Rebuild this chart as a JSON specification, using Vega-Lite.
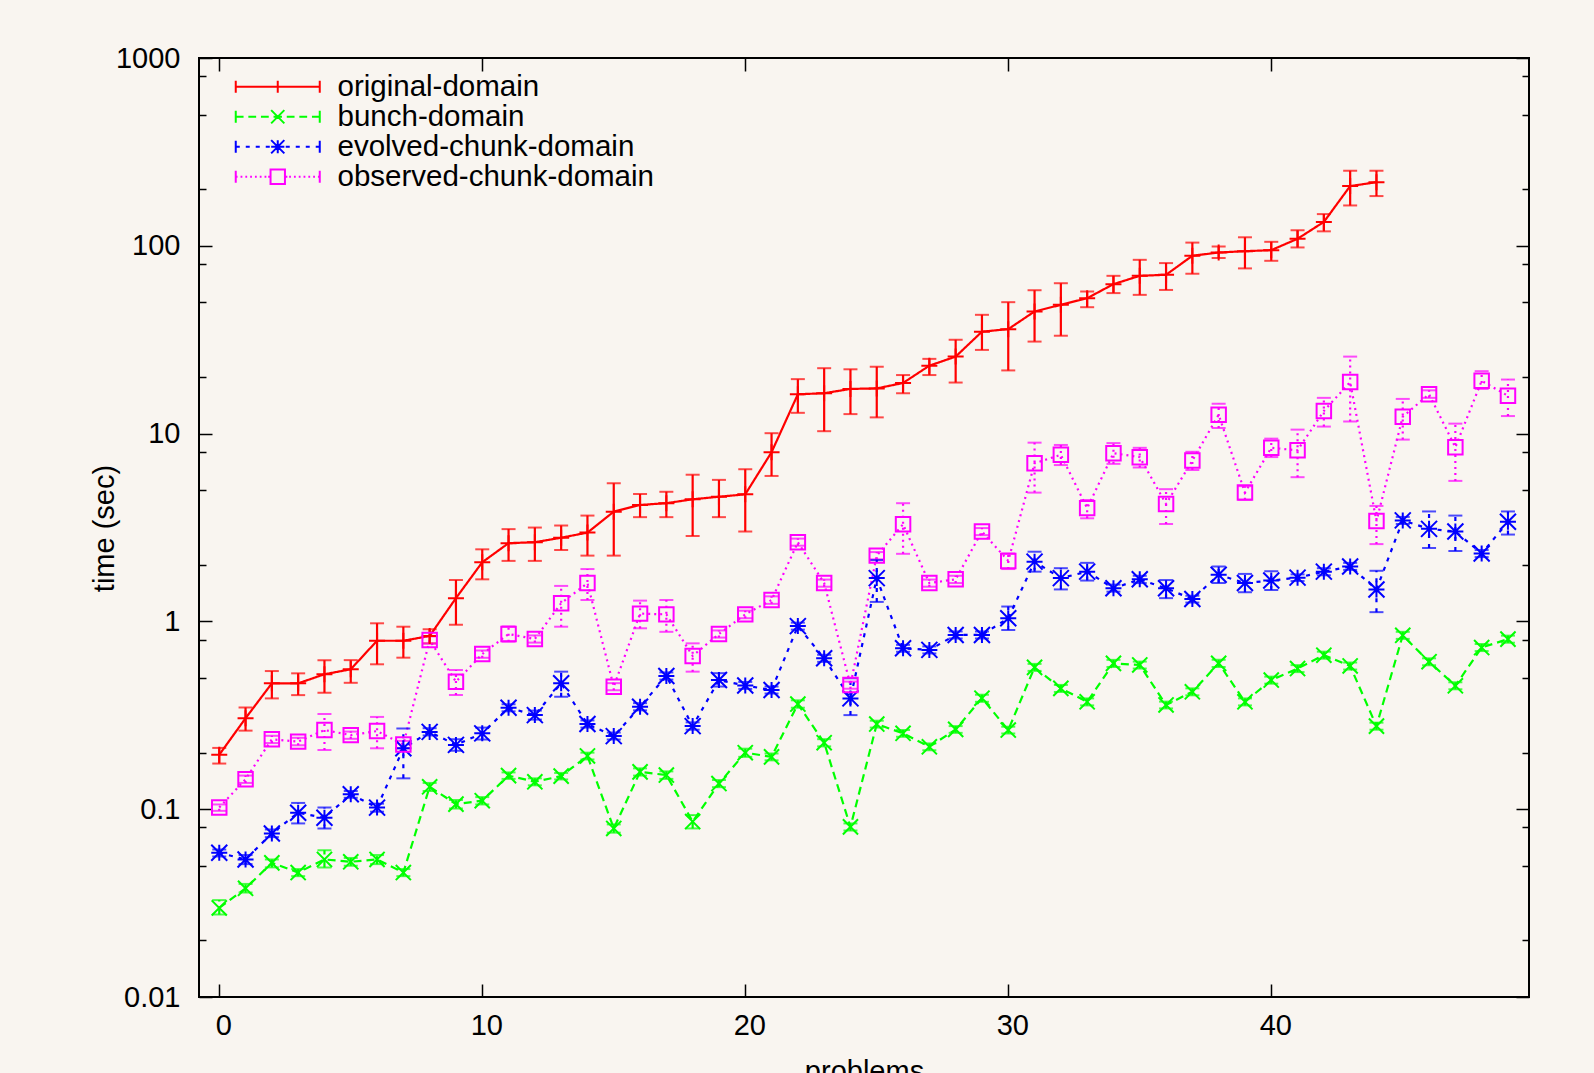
{
  "$schema": "https://vega.github.io/schema/vega-lite/v6.json",
  "autosize": {"type": "none"},
  "width": 1330,
  "height": 939,
  "padding": {"left": 199, "top": 58, "right": 65, "bottom": 76},
  "background": "#f9f5f0",
  "config": {
    "font": "Liberation Sans",
    "view": {"stroke": "black", "strokeWidth": 2},
    "axis": {"domain": false, "grid": false, "labelColor": "black", "titleColor": "black", "titleFontWeight": "normal", "tickColor": "black", "tickWidth": 1.5, "labelFont": "Liberation Sans", "titleFont": "Liberation Sans", "labelFontSize": 29, "titleFontSize": 29}
  },
  "datasets": {
    "runs": [
      {"series":"original-domain","problem":0,"time":0.195,"low":0.175,"high":0.212},
      {"series":"original-domain","problem":1,"time":0.305,"low":0.262,"high":0.348},
      {"series":"original-domain","problem":2,"time":0.468,"low":0.389,"high":0.544},
      {"series":"original-domain","problem":3,"time":0.468,"low":0.405,"high":0.529},
      {"series":"original-domain","problem":4,"time":0.523,"low":0.417,"high":0.622},
      {"series":"original-domain","problem":5,"time":0.556,"low":0.471,"high":0.622},
      {"series":"original-domain","problem":6,"time":0.789,"low":0.591,"high":0.977},
      {"series":"original-domain","problem":7,"time":0.789,"low":0.641,"high":0.937},
      {"series":"original-domain","problem":8,"time":0.836,"low":0.764,"high":0.908},
      {"series":"original-domain","problem":9,"time":1.33,"low":0.96,"high":1.66},
      {"series":"original-domain","problem":10,"time":2.065,"low":1.675,"high":2.42},
      {"series":"original-domain","problem":11,"time":2.61,"low":2.1,"high":3.1},
      {"series":"original-domain","problem":12,"time":2.64,"low":2.1,"high":3.16},
      {"series":"original-domain","problem":13,"time":2.79,"low":2.4,"high":3.24},
      {"series":"original-domain","problem":14,"time":2.97,"low":2.24,"high":3.66},
      {"series":"original-domain","problem":15,"time":3.84,"low":2.24,"high":5.44},
      {"series":"original-domain","problem":16,"time":4.17,"low":3.59,"high":4.77},
      {"series":"original-domain","problem":17,"time":4.26,"low":3.59,"high":4.9},
      {"series":"original-domain","problem":18,"time":4.47,"low":2.85,"high":6.04},
      {"series":"original-domain","problem":19,"time":4.61,"low":3.59,"high":5.67},
      {"series":"original-domain","problem":20,"time":4.75,"low":3.01,"high":6.46},
      {"series":"original-domain","problem":21,"time":7.96,"low":5.95,"high":10.05},
      {"series":"original-domain","problem":22,"time":16.2,"low":12.9,"high":19.5},
      {"series":"original-domain","problem":23,"time":16.4,"low":10.3,"high":22.3},
      {"series":"original-domain","problem":24,"time":17.3,"low":12.7,"high":22.0},
      {"series":"original-domain","problem":25,"time":17.4,"low":12.2,"high":22.7},
      {"series":"original-domain","problem":26,"time":18.6,"low":16.4,"high":20.5},
      {"series":"original-domain","problem":27,"time":23.0,"low":20.5,"high":25.0},
      {"series":"original-domain","problem":28,"time":25.7,"low":18.7,"high":31.6},
      {"series":"original-domain","problem":29,"time":34.9,"low":27.9,"high":42.9},
      {"series":"original-domain","problem":30,"time":36.0,"low":21.7,"high":50.1},
      {"series":"original-domain","problem":31,"time":44.7,"low":30.9,"high":58.0},
      {"series":"original-domain","problem":32,"time":48.5,"low":33.2,"high":63.2},
      {"series":"original-domain","problem":33,"time":52.6,"low":47.1,"high":57.1},
      {"series":"original-domain","problem":34,"time":62.5,"low":56.0,"high":69.2},
      {"series":"original-domain","problem":35,"time":69.2,"low":54.8,"high":84.2},
      {"series":"original-domain","problem":36,"time":70.1,"low":58.2,"high":80.9},
      {"series":"original-domain","problem":37,"time":88.5,"low":71,"high":104},
      {"series":"original-domain","problem":38,"time":92.1,"low":86,"high":99},
      {"series":"original-domain","problem":39,"time":93.6,"low":75.8,"high":111},
      {"series":"original-domain","problem":40,"time":94.8,"low":83.2,"high":105},
      {"series":"original-domain","problem":41,"time":109,"low":98,"high":121},
      {"series":"original-domain","problem":42,"time":134,"low":119.4,"high":147.5},
      {"series":"original-domain","problem":43,"time":208,"low":164,"high":251},
      {"series":"original-domain","problem":44,"time":218,"low":184,"high":251},
      {"series":"bunch-domain","problem":0,"time":0.0298,"low":0.0275,"high":0.0328},
      {"series":"bunch-domain","problem":1,"time":0.0379,"low":0.036,"high":0.04},
      {"series":"bunch-domain","problem":2,"time":0.0518,"low":0.049,"high":0.054},
      {"series":"bunch-domain","problem":3,"time":0.046,"low":0.044,"high":0.048},
      {"series":"bunch-domain","problem":4,"time":0.054,"low":0.049,"high":0.0605},
      {"series":"bunch-domain","problem":5,"time":0.0525,"low":0.05,"high":0.055},
      {"series":"bunch-domain","problem":6,"time":0.054,"low":0.051,"high":0.057},
      {"series":"bunch-domain","problem":7,"time":0.046,"low":0.044,"high":0.048},
      {"series":"bunch-domain","problem":8,"time":0.1316,"low":0.125,"high":0.138},
      {"series":"bunch-domain","problem":9,"time":0.1064,"low":0.101,"high":0.112},
      {"series":"bunch-domain","problem":10,"time":0.111,"low":0.106,"high":0.116},
      {"series":"bunch-domain","problem":11,"time":0.151,"low":0.145,"high":0.157},
      {"series":"bunch-domain","problem":12,"time":0.14,"low":0.134,"high":0.146},
      {"series":"bunch-domain","problem":13,"time":0.15,"low":0.144,"high":0.156},
      {"series":"bunch-domain","problem":14,"time":0.192,"low":0.184,"high":0.2},
      {"series":"bunch-domain","problem":15,"time":0.079,"low":0.075,"high":0.083},
      {"series":"bunch-domain","problem":16,"time":0.158,"low":0.151,"high":0.165},
      {"series":"bunch-domain","problem":17,"time":0.152,"low":0.145,"high":0.159},
      {"series":"bunch-domain","problem":18,"time":0.086,"low":0.079,"high":0.093},
      {"series":"bunch-domain","problem":19,"time":0.137,"low":0.131,"high":0.143},
      {"series":"bunch-domain","problem":20,"time":0.2,"low":0.19,"high":0.21},
      {"series":"bunch-domain","problem":21,"time":0.19,"low":0.182,"high":0.198},
      {"series":"bunch-domain","problem":22,"time":0.363,"low":0.347,"high":0.38},
      {"series":"bunch-domain","problem":23,"time":0.226,"low":0.216,"high":0.236},
      {"series":"bunch-domain","problem":24,"time":0.0805,"low":0.077,"high":0.084},
      {"series":"bunch-domain","problem":25,"time":0.284,"low":0.272,"high":0.296},
      {"series":"bunch-domain","problem":26,"time":0.2535,"low":0.243,"high":0.264},
      {"series":"bunch-domain","problem":27,"time":0.215,"low":0.206,"high":0.224},
      {"series":"bunch-domain","problem":28,"time":0.266,"low":0.255,"high":0.277},
      {"series":"bunch-domain","problem":29,"time":0.39,"low":0.373,"high":0.407},
      {"series":"bunch-domain","problem":30,"time":0.264,"low":0.253,"high":0.275},
      {"series":"bunch-domain","problem":31,"time":0.569,"low":0.545,"high":0.594},
      {"series":"bunch-domain","problem":32,"time":0.44,"low":0.421,"high":0.459},
      {"series":"bunch-domain","problem":33,"time":0.373,"low":0.357,"high":0.389},
      {"series":"bunch-domain","problem":34,"time":0.598,"low":0.572,"high":0.624},
      {"series":"bunch-domain","problem":35,"time":0.586,"low":0.561,"high":0.611},
      {"series":"bunch-domain","problem":36,"time":0.359,"low":0.344,"high":0.374},
      {"series":"bunch-domain","problem":37,"time":0.422,"low":0.404,"high":0.44},
      {"series":"bunch-domain","problem":38,"time":0.598,"low":0.572,"high":0.624},
      {"series":"bunch-domain","problem":39,"time":0.373,"low":0.357,"high":0.389},
      {"series":"bunch-domain","problem":40,"time":0.487,"low":0.466,"high":0.508},
      {"series":"bunch-domain","problem":41,"time":0.561,"low":0.537,"high":0.585},
      {"series":"bunch-domain","problem":42,"time":0.661,"low":0.633,"high":0.69},
      {"series":"bunch-domain","problem":43,"time":0.579,"low":0.554,"high":0.604},
      {"series":"bunch-domain","problem":44,"time":0.277,"low":0.265,"high":0.289},
      {"series":"bunch-domain","problem":45,"time":0.843,"low":0.807,"high":0.88},
      {"series":"bunch-domain","problem":46,"time":0.61,"low":0.584,"high":0.636},
      {"series":"bunch-domain","problem":47,"time":0.454,"low":0.435,"high":0.474},
      {"series":"bunch-domain","problem":48,"time":0.726,"low":0.695,"high":0.758},
      {"series":"bunch-domain","problem":49,"time":0.805,"low":0.77,"high":0.84},
      {"series":"evolved-chunk-domain","problem":0,"time":0.0586,"low":0.056,"high":0.061},
      {"series":"evolved-chunk-domain","problem":1,"time":0.054,"low":0.051,"high":0.057},
      {"series":"evolved-chunk-domain","problem":2,"time":0.0743,"low":0.071,"high":0.078},
      {"series":"evolved-chunk-domain","problem":3,"time":0.0957,"low":0.084,"high":0.108},
      {"series":"evolved-chunk-domain","problem":4,"time":0.09,"low":0.079,"high":0.102},
      {"series":"evolved-chunk-domain","problem":5,"time":0.12,"low":0.115,"high":0.125},
      {"series":"evolved-chunk-domain","problem":6,"time":0.102,"low":0.097,"high":0.107},
      {"series":"evolved-chunk-domain","problem":7,"time":0.211,"low":0.146,"high":0.269},
      {"series":"evolved-chunk-domain","problem":8,"time":0.258,"low":0.247,"high":0.27},
      {"series":"evolved-chunk-domain","problem":9,"time":0.22,"low":0.205,"high":0.236},
      {"series":"evolved-chunk-domain","problem":10,"time":0.2535,"low":0.235,"high":0.272},
      {"series":"evolved-chunk-domain","problem":11,"time":0.347,"low":0.332,"high":0.362},
      {"series":"evolved-chunk-domain","problem":12,"time":0.317,"low":0.3,"high":0.335},
      {"series":"evolved-chunk-domain","problem":13,"time":0.468,"low":0.397,"high":0.54},
      {"series":"evolved-chunk-domain","problem":14,"time":0.284,"low":0.272,"high":0.297},
      {"series":"evolved-chunk-domain","problem":15,"time":0.245,"low":0.235,"high":0.256},
      {"series":"evolved-chunk-domain","problem":16,"time":0.351,"low":0.336,"high":0.367},
      {"series":"evolved-chunk-domain","problem":17,"time":0.512,"low":0.49,"high":0.535},
      {"series":"evolved-chunk-domain","problem":18,"time":0.277,"low":0.265,"high":0.29},
      {"series":"evolved-chunk-domain","problem":19,"time":0.487,"low":0.45,"high":0.53},
      {"series":"evolved-chunk-domain","problem":20,"time":0.456,"low":0.437,"high":0.476},
      {"series":"evolved-chunk-domain","problem":21,"time":0.431,"low":0.413,"high":0.45},
      {"series":"evolved-chunk-domain","problem":22,"time":0.944,"low":0.904,"high":0.985},
      {"series":"evolved-chunk-domain","problem":23,"time":0.636,"low":0.609,"high":0.664},
      {"series":"evolved-chunk-domain","problem":24,"time":0.389,"low":0.317,"high":0.498},
      {"series":"evolved-chunk-domain","problem":25,"time":1.7,"low":1.27,"high":2.12},
      {"series":"evolved-chunk-domain","problem":26,"time":0.719,"low":0.689,"high":0.75},
      {"series":"evolved-chunk-domain","problem":27,"time":0.705,"low":0.675,"high":0.736},
      {"series":"evolved-chunk-domain","problem":28,"time":0.847,"low":0.811,"high":0.884},
      {"series":"evolved-chunk-domain","problem":29,"time":0.847,"low":0.811,"high":0.884},
      {"series":"evolved-chunk-domain","problem":30,"time":1.04,"low":0.9,"high":1.2},
      {"series":"evolved-chunk-domain","problem":31,"time":2.08,"low":1.84,"high":2.35},
      {"series":"evolved-chunk-domain","problem":32,"time":1.7,"low":1.48,"high":1.92},
      {"series":"evolved-chunk-domain","problem":33,"time":1.84,"low":1.65,"high":2.05},
      {"series":"evolved-chunk-domain","problem":34,"time":1.5,"low":1.44,"high":1.57},
      {"series":"evolved-chunk-domain","problem":35,"time":1.675,"low":1.6,"high":1.75},
      {"series":"evolved-chunk-domain","problem":36,"time":1.5,"low":1.33,"high":1.66},
      {"series":"evolved-chunk-domain","problem":37,"time":1.315,"low":1.26,"high":1.37},
      {"series":"evolved-chunk-domain","problem":38,"time":1.77,"low":1.6,"high":1.96},
      {"series":"evolved-chunk-domain","problem":39,"time":1.6,"low":1.43,"high":1.79},
      {"series":"evolved-chunk-domain","problem":40,"time":1.65,"low":1.47,"high":1.85},
      {"series":"evolved-chunk-domain","problem":41,"time":1.71,"low":1.64,"high":1.78},
      {"series":"evolved-chunk-domain","problem":42,"time":1.84,"low":1.76,"high":1.92},
      {"series":"evolved-chunk-domain","problem":43,"time":1.96,"low":1.88,"high":2.05},
      {"series":"evolved-chunk-domain","problem":44,"time":1.48,"low":1.12,"high":1.86},
      {"series":"evolved-chunk-domain","problem":45,"time":3.45,"low":3.3,"high":3.6},
      {"series":"evolved-chunk-domain","problem":46,"time":3.11,"low":2.46,"high":3.85},
      {"series":"evolved-chunk-domain","problem":47,"time":3.01,"low":2.37,"high":3.66},
      {"series":"evolved-chunk-domain","problem":48,"time":2.3,"low":2.2,"high":2.4},
      {"series":"evolved-chunk-domain","problem":49,"time":3.39,"low":2.9,"high":3.85},
      {"series":"observed-chunk-domain","problem":0,"time":0.102,"low":0.098,"high":0.106},
      {"series":"observed-chunk-domain","problem":1,"time":0.1445,"low":0.138,"high":0.151},
      {"series":"observed-chunk-domain","problem":2,"time":0.2355,"low":0.225,"high":0.246},
      {"series":"observed-chunk-domain","problem":3,"time":0.229,"low":0.219,"high":0.24},
      {"series":"observed-chunk-domain","problem":4,"time":0.264,"low":0.2065,"high":0.321},
      {"series":"observed-chunk-domain","problem":5,"time":0.248,"low":0.237,"high":0.259},
      {"series":"observed-chunk-domain","problem":6,"time":0.2606,"low":0.211,"high":0.31},
      {"series":"observed-chunk-domain","problem":7,"time":0.221,"low":0.211,"high":0.231},
      {"series":"observed-chunk-domain","problem":8,"time":0.796,"low":0.762,"high":0.832},
      {"series":"observed-chunk-domain","problem":9,"time":0.477,"low":0.406,"high":0.551},
      {"series":"observed-chunk-domain","problem":10,"time":0.67,"low":0.64,"high":0.7},
      {"series":"observed-chunk-domain","problem":11,"time":0.857,"low":0.78,"high":0.94},
      {"series":"observed-chunk-domain","problem":12,"time":0.806,"low":0.771,"high":0.842},
      {"series":"observed-chunk-domain","problem":13,"time":1.25,"low":0.937,"high":1.545},
      {"series":"observed-chunk-domain","problem":14,"time":1.6,"low":1.3,"high":1.9},
      {"series":"observed-chunk-domain","problem":15,"time":0.449,"low":0.43,"high":0.469},
      {"series":"observed-chunk-domain","problem":16,"time":1.1,"low":0.919,"high":1.29},
      {"series":"observed-chunk-domain","problem":17,"time":1.09,"low":0.88,"high":1.3},
      {"series":"observed-chunk-domain","problem":18,"time":0.655,"low":0.54,"high":0.764},
      {"series":"observed-chunk-domain","problem":19,"time":0.857,"low":0.82,"high":0.895},
      {"series":"observed-chunk-domain","problem":20,"time":1.09,"low":1.04,"high":1.14},
      {"series":"observed-chunk-domain","problem":21,"time":1.3,"low":1.24,"high":1.36},
      {"series":"observed-chunk-domain","problem":22,"time":2.64,"low":2.53,"high":2.76},
      {"series":"observed-chunk-domain","problem":23,"time":1.6,"low":1.53,"high":1.67},
      {"series":"observed-chunk-domain","problem":24,"time":0.458,"low":0.438,"high":0.478},
      {"series":"observed-chunk-domain","problem":25,"time":2.24,"low":2.14,"high":2.34},
      {"series":"observed-chunk-domain","problem":26,"time":3.29,"low":2.29,"high":4.26},
      {"series":"observed-chunk-domain","problem":27,"time":1.6,"low":1.53,"high":1.67},
      {"series":"observed-chunk-domain","problem":28,"time":1.675,"low":1.6,"high":1.75},
      {"series":"observed-chunk-domain","problem":29,"time":3.01,"low":2.88,"high":3.14},
      {"series":"observed-chunk-domain","problem":30,"time":2.1,"low":1.9,"high":2.3},
      {"series":"observed-chunk-domain","problem":31,"time":6.95,"low":4.85,"high":8.95},
      {"series":"observed-chunk-domain","problem":32,"time":7.71,"low":6.8,"high":8.7},
      {"series":"observed-chunk-domain","problem":33,"time":4.01,"low":3.54,"high":4.43},
      {"series":"observed-chunk-domain","problem":34,"time":7.87,"low":6.9,"high":8.9},
      {"series":"observed-chunk-domain","problem":35,"time":7.49,"low":6.6,"high":8.4},
      {"series":"observed-chunk-domain","problem":36,"time":4.22,"low":3.3,"high":5.06},
      {"series":"observed-chunk-domain","problem":37,"time":7.18,"low":6.4,"high":8.0},
      {"series":"observed-chunk-domain","problem":38,"time":12.6,"low":10.7,"high":14.4},
      {"series":"observed-chunk-domain","problem":39,"time":4.85,"low":4.45,"high":5.25},
      {"series":"observed-chunk-domain","problem":40,"time":8.4,"low":7.5,"high":9.4},
      {"series":"observed-chunk-domain","problem":41,"time":8.15,"low":5.86,"high":10.5},
      {"series":"observed-chunk-domain","problem":42,"time":13.2,"low":10.9,"high":15.5},
      {"series":"observed-chunk-domain","problem":43,"time":18.8,"low":11.6,"high":25.7},
      {"series":"observed-chunk-domain","problem":44,"time":3.42,"low":2.58,"high":4.12},
      {"series":"observed-chunk-domain","problem":45,"time":12.3,"low":9.29,"high":15.3},
      {"series":"observed-chunk-domain","problem":46,"time":16.2,"low":15.5,"high":17.0},
      {"series":"observed-chunk-domain","problem":47,"time":8.45,"low":5.6,"high":11.3},
      {"series":"observed-chunk-domain","problem":48,"time":19.1,"low":17.3,"high":21.5},
      {"series":"observed-chunk-domain","problem":49,"time":15.9,"low":12.4,"high":19.4}
    ]
  },
  "data": {"name": "runs"},
  "resolve": {"axis": {"x": "independent", "y": "independent"}},
  "layer": [
    {
      "mark": {"type": "rule", "strokeWidth": 2.2},
      "encoding": {
        "x": {"field": "problem", "type": "quantitative", "scale": {"domain": [-0.77, 49.8], "nice": false, "zero": false},
              "axis": {"orient": "bottom", "values": [0, 10, 20, 30, 40], "tickSize": -13, "labelPadding": 27, "labelOffset": 4, "title": "problems", "titleX": 665, "titleY": 60, "titleAlign": "center", "titleBaseline": "top"}},
        "y": {"field": "low", "type": "quantitative", "scale": {"type": "log", "domain": [0.01, 1000], "nice": false},
              "axis": {"orient": "left", "values": [0.01, 0.02, 0.05, 0.08, 0.1, 0.2, 0.5, 0.8, 1, 2, 5, 8, 10, 20, 50, 80, 100, 200, 500, 800, 1000],
                       "labelExpr": "abs(log(datum.value)/LN10 - round(log(datum.value)/LN10)) < 0.01 ? format(datum.value, '~g') : ''",
                       "tickSize": {"condition": {"test": "abs(log(datum.value)/LN10 - round(log(datum.value)/LN10)) < 0.01", "value": -13}, "value": -7},
                       "labelPadding": 32, "title": "time (sec)", "titleX": -95, "titleY": 470, "titleAngle": -90, "titleAlign": "center", "titleBaseline": "middle"}},
        "y2": {"field": "high"},
        "color": {"field": "series", "type": "nominal", "legend": null,
                  "scale": {"domain": ["bunch-domain", "original-domain", "evolved-chunk-domain", "observed-chunk-domain"], "range": ["#00ff00", "#ff0000", "#0000ff", "#ff00ff"]}},
        "strokeDash": {"field": "series", "type": "nominal", "legend": null,
                       "scale": {"domain": ["bunch-domain", "original-domain", "evolved-chunk-domain", "observed-chunk-domain"], "range": [[8, 5], [1, 0], [4, 6], [2, 4]]}}
      }
    },
    {
      "mark": {"type": "line", "strokeWidth": 2.2},
      "encoding": {
        "x": {"field": "problem", "type": "quantitative", "axis": null},
        "y": {"field": "time", "type": "quantitative", "axis": null},
        "color": {"field": "series", "type": "nominal", "legend": null},
        "strokeDash": {"field": "series", "type": "nominal", "legend": null},
        "detail": {"field": "series"}
      }
    },
    {
      "mark": {"type": "tick", "orient": "horizontal", "size": 14, "thickness": 2},
      "encoding": {
        "x": {"field": "problem", "type": "quantitative", "axis": null},
        "y": {"field": "low", "type": "quantitative", "axis": null},
        "color": {"field": "series", "type": "nominal", "legend": null}
      }
    },
    {
      "mark": {"type": "tick", "orient": "horizontal", "size": 14, "thickness": 2},
      "encoding": {
        "x": {"field": "problem", "type": "quantitative", "axis": null},
        "y": {"field": "high", "type": "quantitative", "axis": null},
        "color": {"field": "series", "type": "nominal", "legend": null}
      }
    },
    {
      "transform": [{"filter": "datum.series == 'original-domain'"}],
      "mark": {"type": "point", "shape": "M-1,0L1,0M0,-1L0,1", "size": 256, "filled": false, "strokeWidth": 2, "opacity": 1},
      "encoding": {
        "x": {"field": "problem", "type": "quantitative", "axis": null},
        "y": {"field": "time", "type": "quantitative", "axis": null},
        "color": {"field": "series", "type": "nominal", "legend": null}
      }
    },
    {
      "transform": [{"filter": "datum.series == 'bunch-domain'"}],
      "mark": {"type": "point", "shape": "M-1,-1L1,1M-1,1L1,-1", "size": 230, "filled": false, "strokeWidth": 2, "opacity": 1},
      "encoding": {
        "x": {"field": "problem", "type": "quantitative", "axis": null},
        "y": {"field": "time", "type": "quantitative", "axis": null},
        "color": {"field": "series", "type": "nominal", "legend": null}
      }
    },
    {
      "transform": [{"filter": "datum.series == 'evolved-chunk-domain'"}],
      "mark": {"type": "point", "shape": "M-1,0L1,0M0,-1L0,1M-1,-1L1,1M-1,1L1,-1", "size": 256, "filled": false, "strokeWidth": 2, "opacity": 1},
      "encoding": {
        "x": {"field": "problem", "type": "quantitative", "axis": null},
        "y": {"field": "time", "type": "quantitative", "axis": null},
        "color": {"field": "series", "type": "nominal", "legend": null}
      }
    },
    {
      "transform": [{"filter": "datum.series == 'observed-chunk-domain'"}],
      "mark": {"type": "point", "shape": "square", "size": 210, "filled": false, "strokeWidth": 2, "opacity": 1},
      "encoding": {
        "x": {"field": "problem", "type": "quantitative", "axis": null},
        "y": {"field": "time", "type": "quantitative", "axis": null},
        "color": {"field": "series", "type": "nominal", "legend": null}
      }
    },
    {
      "transform": [{"filter": "datum.problem < -5"}],
      "mark": {"type": "point", "filled": false, "strokeWidth": 2, "opacity": 1},
      "encoding": {
        "x": {"field": "problem", "type": "quantitative",
              "axis": {"orient": "top", "values": [0, 10, 20, 30, 40], "tickSize": -13, "labels": false, "title": null}},
        "y": {"field": "time", "type": "quantitative",
              "axis": {"orient": "right", "values": [0.01, 0.02, 0.05, 0.08, 0.1, 0.2, 0.5, 0.8, 1, 2, 5, 8, 10, 20, 50, 80, 100, 200, 500, 800, 1000], "labels": false, "title": null,
                       "tickSize": {"condition": {"test": "abs(log(datum.value)/LN10 - round(log(datum.value)/LN10)) < 0.01", "value": -13}, "value": -7}}},
        "stroke": {"field": "series", "type": "nominal",
                   "scale": {"domain": ["original-domain", "bunch-domain", "evolved-chunk-domain", "observed-chunk-domain"], "range": ["#ff0000", "#00ff00", "#0000ff", "#ff00ff"]},
                   "legend": {"orient": "none", "legendX": 64, "legendY": 14, "title": null, "labelFont": "Liberation Sans", "labelFontSize": 29.5, "labelColor": "black", "symbolSize": 144, "symbolStrokeWidth": 2, "symbolFillColor": "transparent", "symbolOpacity": 1, "labelOffset": 45, "rowPadding": -1.5, "padding": 0, "labelLimit": 0}},
        "shape": {"field": "series", "type": "nominal",
                  "legend": {"orient": "none", "legendX": 64, "legendY": 14, "title": null, "labelFont": "Liberation Sans", "labelFontSize": 29.5, "labelColor": "black", "symbolSize": 144, "symbolStrokeWidth": 2, "symbolFillColor": "transparent", "symbolOpacity": 1, "labelOffset": 45, "rowPadding": -1.5, "padding": 0, "labelLimit": 0},
                  "scale": {"domain": ["original-domain", "bunch-domain", "evolved-chunk-domain", "observed-chunk-domain"],
                            "range": [
                              "M-7,0L7,0M-7,-1L-7,1M7,-1L7,1M0,-1L0,1",
                              "M-7,0L-5.7,0M-4.9,0L-3.6,0M-2.8,0L-1.5,0M-0.7,0L0.7,0M1.5,0L2.8,0M3.6,0L4.9,0M5.7,0L7,0M-7,-1L-7,1M7,-1L7,1M-1.1,-1.1L1.1,1.1M-1.1,1.1L1.1,-1.1",
                              "M-7,0L-6.33,0M-5.33,0L-4.67,0M-3.67,0L-3,0M-2,0L-1.33,0M-0.33,0L0.33,0M1.33,0L2,0M3,0L3.67,0M4.67,0L5.33,0M6.33,0L7,0M-7,-1L-7,1M7,-1L7,1M-1.1,0L1.1,0M0,-1.1L0,1.1M-1.1,-1.1L1.1,1.1M-1.1,1.1L1.1,-1.1",
                              "M-7,0L-6.7,0M-6.2,0L-5.9,0M-5.4,0L-5.1,0M-4.6,0L-4.3,0M-3.8,0L-3.5,0M-3,0L-2.7,0M-2.2,0L-1.9,0M-1.6,0L-1.3,0M1.3,0L1.6,0M1.9,0L2.2,0M2.7,0L3,0M3.5,0L3.8,0M4.3,0L4.6,0M5.1,0L5.4,0M5.9,0L6.2,0M6.7,0L7,0M-7,-1L-7,1M7,-1L7,1M-1.2,-1.2L1.2,-1.2L1.2,1.2L-1.2,1.2Z"
                            ]}}
      }
    }
  ]
}
